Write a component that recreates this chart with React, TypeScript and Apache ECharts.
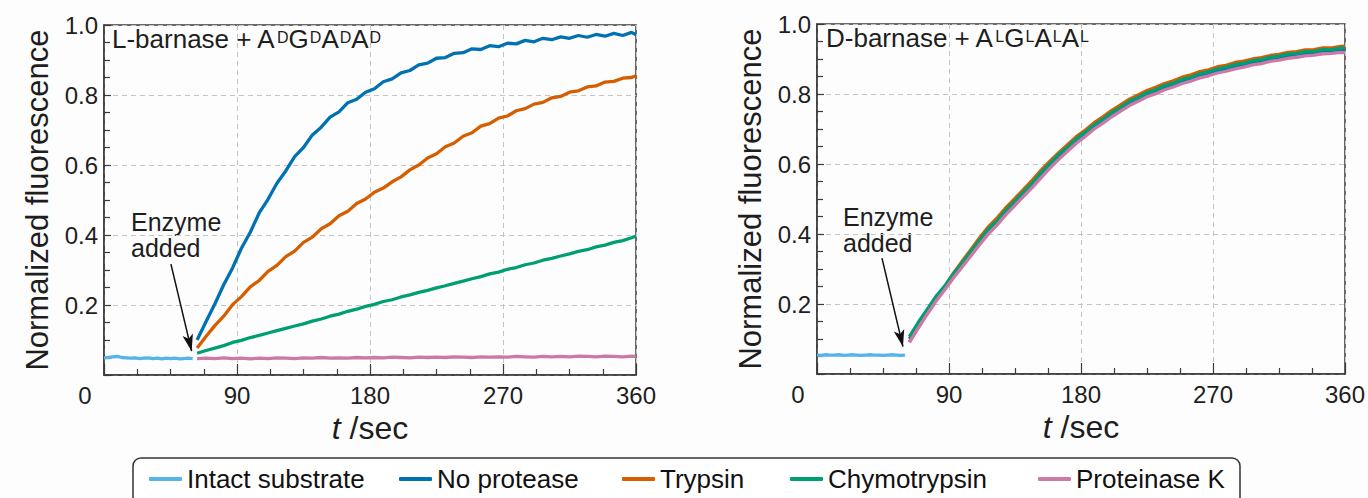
import React, { useEffect, useRef } from 'react';
import * as echarts from 'echarts';

const FONT = '"Liberation Sans", Arial, Helvetica, sans-serif';
const TEXT = '#1e1e1e';
const AXIS = '#3a3a3a';

const SERIES_NAMES = ['Intact substrate', 'No protease', 'Trypsin', 'Chymotrypsin', 'Proteinase K'];
const COLORS = ['#56b4e9', '#0072b2', '#d55e00', '#009e73', '#cc79a7'];

const X_TICKS = [0, 90, 180, 270, 360];
const Y_TICKS = [0, 0.2, 0.4, 0.6, 0.8, 1.0];

// time (s) of the pre-enzyme trace
const T_INTACT = [0, 3, 6, 9, 12, 15, 18, 21, 24, 27, 30, 33, 36, 39, 42, 45, 48, 51, 54, 57, 60];
// time (s) after enzyme addition
const T_AFTER = [63, 69, 75, 81, 87, 93, 99, 105, 111, 117, 123, 129, 135, 141, 147, 153, 159, 165, 171, 177,
  183, 189, 195, 201, 207, 213, 219, 225, 231, 237, 243, 249, 255, 261, 267, 273, 279, 285, 291, 297,
  303, 309, 315, 321, 327, 333, 339, 345, 351, 357, 360];

// ---- Left panel: L-barnase + ADGDADAD ----
const L_INTACT = [0.049, 0.050, 0.052, 0.053, 0.050, 0.049, 0.048, 0.049, 0.047, 0.048, 0.049, 0.047, 0.048, 0.046, 0.048, 0.047, 0.048, 0.046, 0.047, 0.048, 0.047];
const L_NO_PROTEASE = [0.100, 0.152, 0.203, 0.258, 0.306, 0.362, 0.408, 0.463, 0.502, 0.548, 0.583, 0.624, 0.650, 0.686, 0.708, 0.737, 0.752, 0.778, 0.788, 0.808,
  0.818, 0.838, 0.846, 0.863, 0.870, 0.886, 0.891, 0.905, 0.907, 0.919, 0.921, 0.932, 0.930, 0.941, 0.938, 0.948, 0.946, 0.956, 0.952, 0.962,
  0.958, 0.966, 0.962, 0.970, 0.965, 0.973, 0.968, 0.976, 0.970, 0.979, 0.972];
const L_TRYPSIN = [0.077, 0.110, 0.141, 0.168, 0.201, 0.224, 0.252, 0.270, 0.296, 0.313, 0.338, 0.354, 0.379, 0.394, 0.418, 0.432, 0.455, 0.468, 0.490, 0.503,
  0.522, 0.534, 0.552, 0.566, 0.586, 0.600, 0.620, 0.632, 0.652, 0.663, 0.682, 0.692, 0.711, 0.718, 0.734, 0.740, 0.755, 0.761, 0.774, 0.779,
  0.792, 0.796, 0.808, 0.812, 0.823, 0.826, 0.837, 0.839, 0.848, 0.850, 0.855];
const L_CHYMO = [0.062, 0.070, 0.077, 0.084, 0.093, 0.099, 0.107, 0.113, 0.120, 0.127, 0.133, 0.140, 0.146, 0.154, 0.160, 0.168, 0.174, 0.182, 0.188, 0.196,
  0.202, 0.210, 0.215, 0.223, 0.229, 0.236, 0.242, 0.249, 0.255, 0.262, 0.268, 0.275, 0.281, 0.289, 0.294, 0.302, 0.307, 0.315, 0.320, 0.328,
  0.333, 0.340, 0.346, 0.353, 0.358, 0.366, 0.371, 0.379, 0.384, 0.392, 0.397];
const L_PROTK = [0.047, 0.048, 0.047, 0.049, 0.047, 0.048, 0.046, 0.048, 0.047, 0.049, 0.048, 0.047, 0.049, 0.048, 0.050, 0.048, 0.049, 0.048, 0.050, 0.049,
  0.050, 0.049, 0.051, 0.050, 0.049, 0.051, 0.050, 0.051, 0.050, 0.052, 0.051, 0.050, 0.052, 0.051, 0.052, 0.051, 0.053, 0.052, 0.051, 0.053,
  0.052, 0.053, 0.052, 0.054, 0.053, 0.052, 0.054, 0.053, 0.052, 0.054, 0.053];

// ---- Right panel: D-barnase + ALGLALAL ----
const R_INTACT = [0.054, 0.053, 0.055, 0.054, 0.054, 0.055, 0.053, 0.054, 0.055, 0.054, 0.053, 0.054, 0.055, 0.054, 0.054, 0.053, 0.054, 0.055, 0.054, 0.053, 0.054];
const R_NO_PROTEASE = [0.100, 0.140, 0.179, 0.215, 0.248, 0.281, 0.314, 0.346, 0.379, 0.409, 0.436, 0.464, 0.490, 0.516, 0.543, 0.571, 0.597, 0.622, 0.645, 0.668,
  0.687, 0.707, 0.724, 0.742, 0.758, 0.774, 0.786, 0.799, 0.808, 0.819, 0.827, 0.837, 0.844, 0.853, 0.859, 0.867, 0.872, 0.879, 0.884, 0.890,
  0.894, 0.900, 0.904, 0.909, 0.912, 0.916, 0.918, 0.922, 0.923, 0.926, 0.927];
const R_TRYPSIN = [0.092, 0.133, 0.174, 0.214, 0.249, 0.288, 0.322, 0.356, 0.390, 0.421, 0.447, 0.476, 0.502, 0.528, 0.555, 0.583, 0.609, 0.633, 0.656, 0.679,
  0.697, 0.718, 0.735, 0.753, 0.769, 0.785, 0.797, 0.810, 0.819, 0.830, 0.838, 0.848, 0.855, 0.864, 0.869, 0.878, 0.882, 0.890, 0.894, 0.900,
  0.904, 0.910, 0.913, 0.919, 0.921, 0.926, 0.927, 0.932, 0.932, 0.936, 0.937];
const R_CHYMO = [0.107, 0.147, 0.184, 0.221, 0.251, 0.286, 0.317, 0.351, 0.383, 0.415, 0.439, 0.469, 0.494, 0.521, 0.547, 0.576, 0.602, 0.628, 0.649, 0.673,
  0.691, 0.712, 0.728, 0.747, 0.762, 0.779, 0.790, 0.804, 0.812, 0.824, 0.831, 0.842, 0.848, 0.858, 0.863, 0.872, 0.876, 0.884, 0.888, 0.895,
  0.898, 0.905, 0.908, 0.914, 0.916, 0.921, 0.922, 0.927, 0.927, 0.931, 0.932];
const R_PROTK = [0.090, 0.131, 0.170, 0.207, 0.240, 0.274, 0.306, 0.338, 0.370, 0.401, 0.427, 0.456, 0.482, 0.508, 0.534, 0.562, 0.589, 0.614, 0.637, 0.660,
  0.679, 0.700, 0.717, 0.735, 0.751, 0.767, 0.779, 0.792, 0.801, 0.812, 0.820, 0.830, 0.837, 0.846, 0.852, 0.860, 0.865, 0.872, 0.877, 0.883,
  0.887, 0.893, 0.897, 0.902, 0.905, 0.909, 0.911, 0.915, 0.916, 0.919, 0.918];

// Arrow annotation "Enzyme added": [start, tip] in data units [t, value]
const L_ARROW = [[45.3, 0.317], [59.3, 0.068]];
const R_ARROW = [[44.3, 0.331], [58.6, 0.078]];

const GRIDS = [
  { left: 104, top: 25, width: 532, height: 350 },
  { left: 817, top: 24, width: 531, height: 350 },
];
// legend layout: left edge of each entry (px) and frame
const LEGEND_LEFT = [149, 399, 622, 790, 1038];
const LEGEND_FRAME = { x: 133, y: 458, width: 1107, height: 70, r: 8 };

function line(name: string, times: number[], values: number[], grid: number, z: number) {
  const color = COLORS[SERIES_NAMES.indexOf(name)];
  return {
    type: 'line',
    name,
    xAxisIndex: grid,
    yAxisIndex: grid,
    data: times.map((t, i) => [t, values[i]]),
    symbol: 'none',
    showSymbol: false,
    lineStyle: { color, width: 3.3 },
    itemStyle: { color },
    emphasis: { disabled: true },
    silent: true,
    z,
  };
}

function arrow(coords: number[][]) {
  return {
    silent: true,
    animation: false,
    label: { show: false },
    emphasis: { disabled: true },
    lineStyle: { color: '#111', width: 1.5, type: 'solid' },
    data: [[
      { coord: coords[0], symbol: 'none' },
      { coord: coords[1], symbol: 'arrow', symbolSize: [8, 17] },
    ]],
  };
}

function xAxis(grid: number) {
  return {
    type: 'value',
    gridIndex: grid,
    min: X_TICKS[0],
    max: X_TICKS[X_TICKS.length - 1],
    interval: 90,
    axisLine: { show: true, lineStyle: { color: AXIS, width: 1.5 } },
    axisTick: { show: true, inside: true, length: 11, lineStyle: { color: AXIS, width: 1.2 } },
    minorTick: { show: true, splitNumber: 4, length: 6, lineStyle: { color: AXIS, width: 1.2 } },
    splitLine: { show: true, lineStyle: { color: '#c4c4c4', type: [5, 4], width: 1 } },
    minorSplitLine: { show: false },
    axisLabel: {
      fontSize: 24, color: TEXT, fontFamily: FONT, margin: 8,
      formatter: (v: number) => (v === 0 ? '' : String(v)),
    },
    name: '{i|t} /sec',
    nameLocation: 'middle',
    nameGap: 34,
    nameTextStyle: {
      fontSize: 32, color: TEXT, fontFamily: FONT,
      rich: { i: { fontSize: 32, fontStyle: 'italic', color: TEXT, fontFamily: FONT } },
    },
  };
}

function yAxis(grid: number) {
  return {
    type: 'value',
    gridIndex: grid,
    min: Y_TICKS[0],
    max: Y_TICKS[Y_TICKS.length - 1],
    interval: 0.2,
    axisLine: { show: true, lineStyle: { color: AXIS, width: 1.5 } },
    axisTick: { show: true, inside: true, length: 7, lineStyle: { color: AXIS, width: 1.2 } },
    minorTick: { show: true, splitNumber: 4, length: 6, lineStyle: { color: AXIS, width: 1.2 } },
    splitLine: { show: true, lineStyle: { color: '#c4c4c4', type: [5, 4], width: 1 } },
    axisLabel: {
      fontSize: 24, color: TEXT, fontFamily: FONT, margin: 6,
      formatter: (v: number) => (v === 0 ? '' : v.toFixed(1)),
    },
    name: 'Normalized fluorescence',
    nameLocation: 'middle',
    nameGap: 51,
    nameTextStyle: { fontSize: 31, color: TEXT, fontFamily: FONT },
  };
}

const titleRich = {
  b: { fontSize: 26, fontWeight: 'normal', lineHeight: 30, color: TEXT, fontFamily: FONT, verticalAlign: 'top' },
  s: { fontSize: 16, fontWeight: 'normal', lineHeight: 16, color: TEXT, fontFamily: FONT, verticalAlign: 'top', padding: [3, 0, 0, 1] },
};

export default function App() {
  const ref = useRef<HTMLDivElement>(null);
  useEffect(() => {
    const chart = echarts.init(ref.current!, null, { renderer: 'svg' });
    const option = {
      animation: false,
      backgroundColor: '#fdfdfd',
      textStyle: { fontFamily: FONT },
      title: [
        {
          text: '{b|L-barnase + A}{s|D}{b|G}{s|D}{b|A}{s|D}{b|A}{s|D}',
          left: 112, top: 26, padding: 0,
          textStyle: { fontWeight: 'normal', rich: titleRich },
        },
        {
          text: '{b|D-barnase + A}{s|L}{b|G}{s|L}{b|A}{s|L}{b|A}{s|L}',
          left: 826, top: 25, padding: 0,
          textStyle: { fontWeight: 'normal', rich: titleRich },
        },
      ],
      legend: SERIES_NAMES.map((name, i) => ({
        data: [name],
        left: LEGEND_LEFT[i],
        top: 466,
        orient: 'horizontal',
        padding: 0,
        itemWidth: 33,
        itemHeight: 4,
        icon: 'roundRect',
        selectedMode: false,
        textStyle: { fontSize: 26, color: '#111', fontFamily: FONT, padding: [0, 0, 0, 0] },
      })),
      grid: GRIDS.map((g) => ({ ...g, show: true, borderColor: AXIS, borderWidth: 1.5, backgroundColor: 'transparent', containLabel: false })),
      xAxis: [xAxis(0), xAxis(1)],
      yAxis: [yAxis(0), yAxis(1)],
      graphic: [
        {
          type: 'rect', silent: true, z: 1,
          shape: { x: LEGEND_FRAME.x, y: LEGEND_FRAME.y, width: LEGEND_FRAME.width, height: LEGEND_FRAME.height, r: LEGEND_FRAME.r },
          style: { fill: '#ffffff', stroke: '#333', lineWidth: 1.5 },
        },
        { type: 'text', x: 85, y: 395, style: { text: String(X_TICKS[0]), fontSize: 24, fill: TEXT, fontFamily: FONT, align: 'center', verticalAlign: 'middle' } },
        { type: 'text', x: 798, y: 394, style: { text: String(X_TICKS[0]), fontSize: 24, fill: TEXT, fontFamily: FONT, align: 'center', verticalAlign: 'middle' } },
        { type: 'text', x: 131, y: 209, style: { text: 'Enzyme\nadded', fontSize: 25, lineHeight: 26, fill: TEXT, fontFamily: FONT } },
        { type: 'text', x: 843, y: 204, style: { text: 'Enzyme\nadded', fontSize: 25, lineHeight: 26, fill: TEXT, fontFamily: FONT } },
      ],
      series: [
        { ...line('Intact substrate', T_INTACT, L_INTACT, 0, 2), markLine: arrow(L_ARROW) },
        line('No protease', T_AFTER, L_NO_PROTEASE, 0, 3),
        line('Trypsin', T_AFTER, L_TRYPSIN, 0, 4),
        line('Chymotrypsin', T_AFTER, L_CHYMO, 0, 5),
        line('Proteinase K', T_AFTER, L_PROTK, 0, 6),
        { ...line('Intact substrate', T_INTACT, R_INTACT, 1, 2), markLine: arrow(R_ARROW) },
        line('No protease', T_AFTER, R_NO_PROTEASE, 1, 3),
        line('Trypsin', T_AFTER, R_TRYPSIN, 1, 4),
        line('Chymotrypsin', T_AFTER, R_CHYMO, 1, 5),
        line('Proteinase K', T_AFTER, R_PROTK, 1, 6),
      ],
    };
    chart.setOption(option as any);
    return () => chart.dispose();
  }, []);
  return <div ref={ref} style={{ position: 'absolute', left: 0, top: 0, width: 1368, height: 498 }} />;
}
